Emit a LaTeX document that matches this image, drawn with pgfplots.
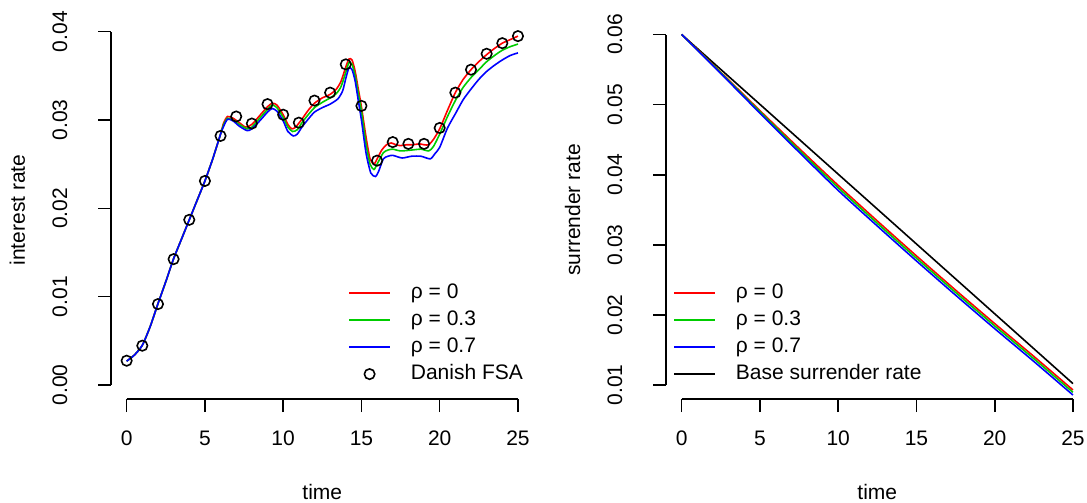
\documentclass[border=0pt]{standalone}
\usepackage{fontspec}
\setmainfont{Liberation Sans}
\usepackage{pgfplots}
\pgfplotsset{compat=1.18}

\definecolor{rred}{RGB}{255,0,0}
\definecolor{rgreen}{RGB}{0,205,0}
\definecolor{rblue}{RGB}{0,0,255}

% R base-graphics look: 1px = 0.5pt
\pgfplotsset{
  rbase/.style={
    scale only axis, width=211.3pt, height=189pt,
    xmin=-1, xmax=26, clip=false,
    axis x line*=bottom, axis y line*=left,
    axis line style={draw=none},
    tick align=outside, major tick length=6.5pt,
    tick style={black, line width=0.8pt},
    xtick={0,5,...,25},
    scaled y ticks=false,
    /pgf/number format/assume math mode=true,
    ticklabel style={font=\fontsize{10.5}{12}\selectfont},
    xticklabel style={anchor=base, inner sep=0pt, yshift=-16.75pt},
    yticklabel style={/pgf/number format/.cd, fixed, fixed zerofill, precision=2, /tikz/.cd,
      anchor=base, inner sep=0pt, xshift=-15.5pt, rotate=90},
    every axis x label/.style={at={(axis description cs:0.5,0)}, anchor=base, yshift=-50pt,
      font=\fontsize{10.5}{12}\selectfont},
    every axis y label/.style={at={(axis description cs:0,0.5)}, xshift=-43pt, rotate=90, anchor=base,
      font=\fontsize{10.5}{12}\selectfont},
    legend style={draw=none, fill=none, inner sep=0pt, outer sep=0pt, row sep=0pt,
      anchor=north west,
      nodes={inner sep=0pt, text height=9.5pt, text depth=4pt, font=\fontsize{10.5}{12}\selectfont},
      /tikz/every odd column/.style={column sep=10pt}},
    legend cell align=left,
    legend image code/.code={\draw[##1] (0pt,0pt) -- (20.5pt,0pt);},
  },
  rline/.style={line width=0.8pt, smooth, tension=0.4},
  circlegend/.style={legend image code/.code={\draw[##1] plot coordinates {(10.25pt,0pt)};}},
}

\begin{document}
\begin{tikzpicture}
\begin{axis}[rbase, at={(55.5pt,52pt)}, anchor=south west,
  ymin=-0.001585, ymax=0.04121,
  ytick={0,0.01,0.02,0.03,0.04},
  xlabel={time}, ylabel={interest rate},
  legend style={at={(0.5615,0.3159)}},
]
\addplot[rred, rline] coordinates {
  (0,0.0027) (0.5,0.0034) (1,0.0045) (1.5,0.0066) (2,0.0092) (2.5,0.0117) (3,0.0143)
  (3.5,0.0165) (4,0.0187) (4.5,0.0209) (5,0.0231) (5.5,0.0256) (6,0.0284)
  (6.2,0.0297) (6.45,0.0304) (6.8,0.0302) (7.2,0.0297) (7.6,0.0292) (8,0.0295)
  (8.5,0.0305) (9,0.0315) (9.3,0.0319) (9.6,0.0317) (10,0.0306) (10.3,0.0295)
  (10.55,0.0290) (10.8,0.0292) (11.2,0.0301) (11.6,0.0311) (12,0.0319) (12.5,0.0325)
  (13,0.0329) (13.4,0.0335) (13.7,0.0344) (14,0.0360) (14.2,0.0369) (14.4,0.0368)
  (14.6,0.0355) (14.8,0.0335) (15,0.0315) (15.3,0.0280) (15.55,0.0256) (15.8,0.0250)
  (16,0.0256) (16.3,0.0266) (16.6,0.0272) (16.9,0.0274) (17.2,0.0272) (17.5,0.0271)
  (17.9,0.0272) (18.3,0.0272) (18.7,0.0273) (19,0.0272) (19.3,0.0272) (19.6,0.0278)
  (20,0.0290) (20.5,0.0311) (21,0.0331) (21.5,0.0346) (22,0.0357) (22.5,0.0366)
  (23,0.0374) (23.5,0.0381) (24,0.0387) (24.5,0.0391) (25,0.0395)
};
\addlegendentry{ρ = 0}
\addplot[rgreen, rline] coordinates {
  (0,0.0027) (0.5,0.0034) (1,0.0045) (1.5,0.0066) (2,0.0092) (2.5,0.0117) (3,0.0143)
  (3.5,0.0165) (4,0.0187) (4.5,0.0209) (5,0.0231) (5.5,0.0256) (6,0.0284)
  (6.2,0.0295) (6.45,0.0302) (6.8,0.0300) (7.2,0.0295) (7.7,0.0290) (8,0.0292)
  (8.5,0.0302) (9,0.0312) (9.3,0.0317) (9.6,0.0314) (10,0.0303) (10.3,0.0292)
  (10.6,0.0287) (10.9,0.0289) (11.2,0.0297) (11.6,0.0306) (12,0.0314) (12.5,0.0320)
  (13,0.0325) (13.4,0.0330) (13.7,0.0338) (14,0.0354) (14.2,0.0365) (14.4,0.0363)
  (14.6,0.0350) (14.8,0.0330) (15,0.0310) (15.3,0.0272) (15.55,0.0250) (15.8,0.0244)
  (16,0.0250) (16.4,0.0263) (16.7,0.0266) (17,0.0267) (17.5,0.0265) (18.2,0.0266)
  (18.8,0.0267) (19.3,0.0265) (19.6,0.0270) (20,0.0284) (20.5,0.0304) (21,0.0322)
  (21.5,0.0337) (22,0.0348) (22.5,0.0357) (23,0.0366) (23.5,0.0373) (24,0.0379)
  (24.5,0.0383) (25,0.0386)
};
\addlegendentry{ρ = 0.3}
\addplot[rblue, rline] coordinates {
  (0,0.0027) (0.5,0.0034) (1,0.0045) (1.5,0.0066) (2,0.0092) (2.5,0.0117) (3,0.0143)
  (3.5,0.0165) (4,0.0187) (4.5,0.0209) (5,0.0231) (5.5,0.0256) (6,0.0284)
  (6.2,0.0293) (6.45,0.0301) (6.8,0.0299) (7.2,0.0293) (7.7,0.0288) (8,0.0290)
  (8.5,0.0299) (9,0.0309) (9.3,0.0313) (9.6,0.0310) (10,0.0299) (10.3,0.0287)
  (10.65,0.0282) (10.9,0.0284) (11.2,0.0292) (11.6,0.0301) (12,0.0309) (12.5,0.0314)
  (13,0.0318) (13.5,0.0324) (13.8,0.0333) (14,0.0347) (14.2,0.0359) (14.4,0.0357)
  (14.6,0.0344) (14.8,0.0322) (15,0.0300) (15.3,0.0262) (15.6,0.0240) (15.9,0.0236)
  (16.1,0.0242) (16.4,0.0256) (16.7,0.0259) (17,0.0260) (17.6,0.0257) (18.2,0.0259)
  (18.8,0.0259) (19.4,0.0256) (19.7,0.0262) (20,0.0269) (20.5,0.0291) (21,0.0307)
  (21.5,0.0323) (22,0.0335) (22.5,0.0346) (23,0.0355) (23.5,0.0362) (24,0.0368)
  (24.5,0.0373) (25,0.0376)
};
\addlegendentry{ρ = 0.7}
\addplot[only marks, mark=o, mark size=2.6pt, black, mark options={line width=0.8pt},
  circlegend] coordinates {
  (0,0.00275) (1,0.00445) (2,0.00916) (3,0.01425) (4,0.0187) (5,0.0231) (6,0.0282)
  (7,0.0304) (8,0.0296) (9,0.0318) (10,0.0306) (11,0.0297) (12,0.0322) (13,0.0331)
  (14,0.0363) (15,0.0316) (16,0.0254) (17,0.0275) (18,0.0273) (19,0.0273) (20,0.0291)
  (21,0.0331) (22,0.0357) (23,0.0375) (24,0.0387) (25,0.0395)
};
\addlegendentry{Danish FSA}
\draw[line width=0.8pt] (axis cs:0,-0.001585) -- (axis cs:25,-0.001585);
\draw[line width=0.8pt] (axis cs:-1,0) -- (axis cs:-1,0.04);
\end{axis}

\begin{axis}[rbase, at={(333pt,52pt)}, anchor=south west,
  ymin=0.008003, ymax=0.06193,
  ytick={0.01,0.02,0.03,0.04,0.05,0.06},
  xlabel={time}, ylabel={surrender rate},
  legend style={at={(0.0173,0.3167)}},
]
\addplot[black, line width=0.8pt, forget plot] coordinates {
  (0,0.06) (5,0.05004) (10,0.04008) (15,0.03012) (20,0.02016) (25,0.0102)
};
\addplot[rred, rline] coordinates {
  (0,0.06) (2.5,0.05462) (5,0.04914) (7.5,0.04376) (10,0.03848) (12.5,0.0334)
  (15,0.02842) (17.5,0.02354) (20,0.01876) (22.5,0.01408) (25,0.00929)
};
\addplot[rgreen, rline] coordinates {
  (0,0.06) (2.5,0.05454) (5,0.04898) (7.5,0.04351) (10,0.03815) (12.5,0.03307)
  (15,0.02809) (17.5,0.02321) (20,0.01843) (22.5,0.01375) (25,0.00896)
};
\addplot[rblue, rline] coordinates {
  (0,0.06) (2.5,0.05444) (5,0.04878) (7.5,0.04322) (10,0.03776) (12.5,0.03268)
  (15,0.0277) (17.5,0.02282) (20,0.01804) (22.5,0.01336) (25,0.00857)
};
\addlegendimage{black, line width=0.8pt}
\legend{ρ = 0, ρ = 0.3, ρ = 0.7, Base surrender rate}
\draw[line width=0.8pt] (axis cs:0,0.008003) -- (axis cs:25,0.008003);
\draw[line width=0.8pt] (axis cs:-1,0.01) -- (axis cs:-1,0.06);
\end{axis}
\pgfresetboundingbox
\path (0,0) rectangle (543.5pt,251.5pt);
\end{tikzpicture}
\end{document}
